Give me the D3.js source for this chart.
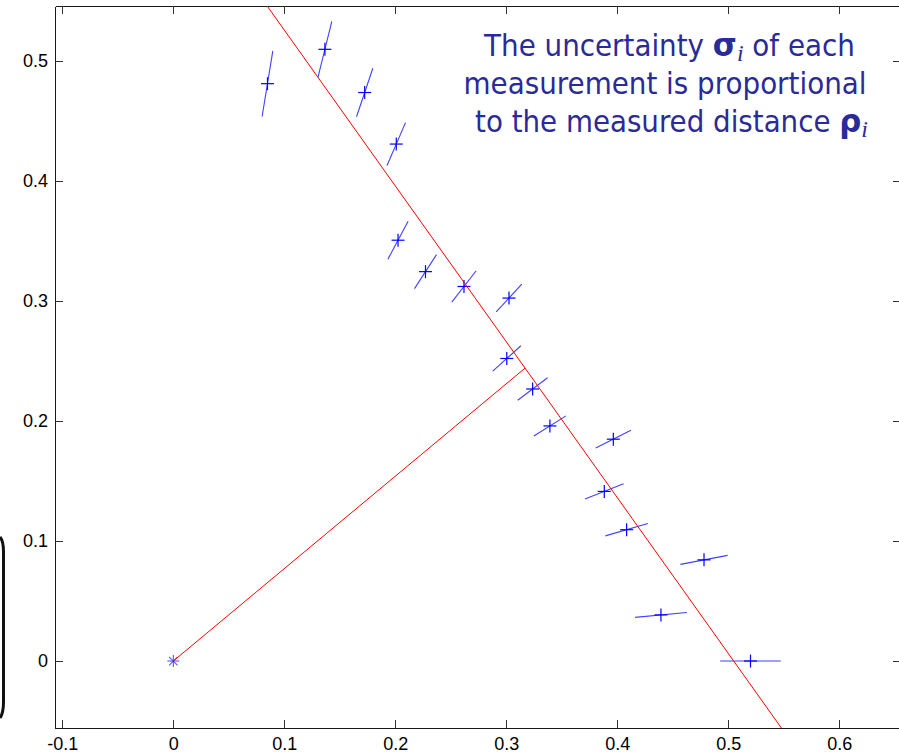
<!DOCTYPE html>
<html>
<head>
<meta charset="utf-8">
<script src="https://cdn.jsdelivr.net/npm/d3@7"></script>
<style>
  html, body { margin: 0; padding: 0; background: #fff; overflow: hidden; }
  svg { display: block; }
</style>
</head>
<body>
<svg id="chart" width="899" height="755"></svg>
<script>
// Range measurements taken along rays from the origin (angle in degrees).
const thetaDeg = [0, 5, 10, 15, 20, 25, 30, 35, 40, 45, 50, 55, 60, 65, 70, 75, 80];
const rho      = [0.520, 0.441, 0.4855, 0.4228, 0.4132, 0.4374, 0.3918, 0.3952, 0.3922,
                  0.4277, 0.4074, 0.3961, 0.4049, 0.4753, 0.5041, 0.5277, 0.4885];
// One-sigma uncertainty of each range reading.
const sigma    = [0.0273, 0.0234, 0.0216, 0.0198, 0.0185, 0.0175, 0.0167, 0.0164, 0.0165,
                  0.0163, 0.0171, 0.0173, 0.0182, 0.0197, 0.0215, 0.0240, 0.0278];

// Fitted line in polar (normal) form: x cos(alpha) + y sin(alpha) = r
const lineR = 0.4;
const lineAlphaDeg = 37.6;

const xTicks = [-0.1, 0, 0.1, 0.2, 0.3, 0.4, 0.5, 0.6];
const xTickLabels = ["-0.1", "0", "0.1", "0.2", "0.3", "0.4", "0.5", "0.6"];
const yTicks = [0, 0.1, 0.2, 0.3, 0.4, 0.5];
const yTickLabels = ["0", "0.1", "0.2", "0.3", "0.4", "0.5"];

const xDomain = [-0.1066, 0.6556];
const yDomain = [-0.0558, 0.5458];

const svg = d3.select("#chart");
const plot = { left: 55, top: 6, right: 901, bottom: 728 };

const x = d3.scaleLinear().domain(xDomain).range([plot.left, plot.right]);
const y = d3.scaleLinear().domain(yDomain).range([plot.bottom, plot.top]);

svg.append("rect").attr("width", 899).attr("height", 755).attr("fill", "#fff");

// Rounded frame edge at the far left
svg.append("path")
  .attr("d", "M0,537 Q3.5,541 3.5,552 L3.5,702 Q3.5,713 0,718")
  .attr("fill", "none").attr("stroke", "#111").attr("stroke-width", 3);

svg.append("defs").append("clipPath").attr("id", "plotClip")
  .append("rect")
  .attr("x", plot.left).attr("y", plot.top)
  .attr("width", plot.right - plot.left).attr("height", plot.bottom - plot.top);

// Axes (ticks point inward, box on all four sides)
const fontAxis = "'Liberation Sans', Arial, sans-serif";
function styleAxis(g) {
  g.selectAll(".domain").attr("stroke", "#1a1a1a").attr("shape-rendering", "crispEdges");
  g.selectAll(".tick line").attr("stroke", "#333").attr("shape-rendering", "crispEdges");
  g.selectAll(".tick text").attr("fill", "#000")
    .style("font-family", fontAxis).style("font-size", "18px");
}

svg.append("g").attr("transform", `translate(0,${plot.bottom})`)
  .call(d3.axisBottom(x).tickValues(xTicks).tickSize(-8).tickSizeOuter(0).tickPadding(9)
    .tickFormat((d, i) => xTickLabels[i]))
  .call(styleAxis);

svg.append("g").attr("transform", `translate(0,${plot.top})`)
  .call(d3.axisTop(x).tickValues(xTicks).tickSize(-8).tickSizeOuter(0).tickFormat(""))
  .call(styleAxis);

svg.append("g").attr("transform", `translate(${plot.left},0)`)
  .call(d3.axisLeft(y).tickValues(yTicks).tickSize(-8).tickSizeOuter(0).tickPadding(7)
    .tickFormat((d, i) => yTickLabels[i]))
  .call(styleAxis);

svg.append("g").attr("transform", `translate(${plot.right},0)`)
  .call(d3.axisRight(y).tickValues(yTicks).tickSize(-8).tickSizeOuter(0).tickFormat(""))
  .call(styleAxis);

const layer = svg.append("g").attr("clip-path", "url(#plotClip)");

// Measured points with radial error bars
const blue = "#0000ff";
const pts = thetaDeg.map((t, i) => {
  const a = t * Math.PI / 180;
  return { c: Math.cos(a), s: Math.sin(a), r: rho[i], sd: sigma[i] };
});

layer.selectAll("line.err").data(pts).join("line")
  .attr("class", "err")
  .attr("x1", d => x((d.r - d.sd) * d.c)).attr("y1", d => y((d.r - d.sd) * d.s))
  .attr("x2", d => x((d.r + d.sd) * d.c)).attr("y2", d => y((d.r + d.sd) * d.s))
  .attr("stroke", blue).attr("stroke-width", 1.1).attr("stroke-opacity", 0.75);

const arm = 6.5;
const plus = layer.selectAll("g.pt").data(pts).join("g")
  .attr("class", "pt")
  .attr("transform", d => `translate(${x(d.r * d.c)},${y(d.r * d.s)})`);
plus.append("line").attr("x1", -arm).attr("x2", arm).attr("y1", 0).attr("y2", 0)
  .attr("stroke", blue).attr("stroke-width", 1.2);
plus.append("line").attr("x1", 0).attr("x2", 0).attr("y1", -arm).attr("y2", arm)
  .attr("stroke", blue).attr("stroke-width", 1.2);

// Origin (sensor position) as a star marker
const star = layer.append("g").attr("transform", `translate(${x(0)},${y(0)})`);
[0, 45, 90, 135].forEach(ang => {
  const a = ang * Math.PI / 180, s = 6;
  star.append("line")
    .attr("x1", -s * Math.cos(a)).attr("y1", -s * Math.sin(a))
    .attr("x2", s * Math.cos(a)).attr("y2", s * Math.sin(a))
    .attr("stroke", "#3030ff").attr("stroke-width", 1.1).attr("stroke-opacity", 0.8);
});

// Fitted line and its normal from the origin
const ca = Math.cos(lineAlphaDeg * Math.PI / 180);
const sa = Math.sin(lineAlphaDeg * Math.PI / 180);
const xAtY = v => (lineR - v * sa) / ca;
const red = "#ff0000";
layer.append("line")
  .attr("x1", x(xAtY(yDomain[1]))).attr("y1", y(yDomain[1]))
  .attr("x2", x(xAtY(yDomain[0]))).attr("y2", y(yDomain[0]))
  .attr("stroke", red).attr("stroke-width", 1);
layer.append("line")
  .attr("x1", x(0)).attr("y1", y(0))
  .attr("x2", x(lineR * ca)).attr("y2", y(lineR * sa))
  .attr("stroke", red).attr("stroke-width", 1);

// Annotation
const noteColor = "#2a2a98";
const noteFont = "'DejaVu Sans Condensed', 'DejaVu Sans', Verdana, sans-serif";
const noteLines = [
  { parts: [["The uncertainty ", "t"], ["σ", "g"], ["i", "s"], [" of each", "t"]], cx: 669, base: 56, w: 372 },
  { parts: [["measurement is proportional", "t"]], cx: 665, base: 94, w: 403 },
  { parts: [["to the measured distance ", "t"], ["ρ", "g"], ["i", "s"]], cx: 671.5, base: 132, w: 393 }
];
noteLines.forEach(l => {
  const g = svg.append("g");
  const t = g.append("text").attr("x", 0).attr("y", 0).attr("text-anchor", "middle")
    .attr("fill", noteColor).style("font-family", noteFont).style("font-size", "31px");
  let lowered = false;
  l.parts.forEach(([str, kind]) => {
    const sp = t.append("tspan").text(str);
    if (kind === "g") {
      sp.style("font-weight", "bold").style("font-family", "'DejaVu Sans', sans-serif");
      if (lowered) { sp.attr("dy", -5); lowered = false; }
    } else if (kind === "s") {
      sp.style("font-family", "'Liberation Serif', 'Times New Roman', serif")
        .style("font-style", "italic").style("font-size", "24px").attr("dy", 5);
      lowered = true;
    } else {
      if (lowered) { sp.attr("dy", -5); lowered = false; }
    }
  });
  const bb = t.node().getBBox();
  const k = l.w / bb.width;
  const shift = -(bb.x + bb.width / 2);
  t.attr("x", shift);
  g.attr("transform", `translate(${l.cx},${l.base}) scale(${k},1)`);
});
</script>
</body>
</html>
